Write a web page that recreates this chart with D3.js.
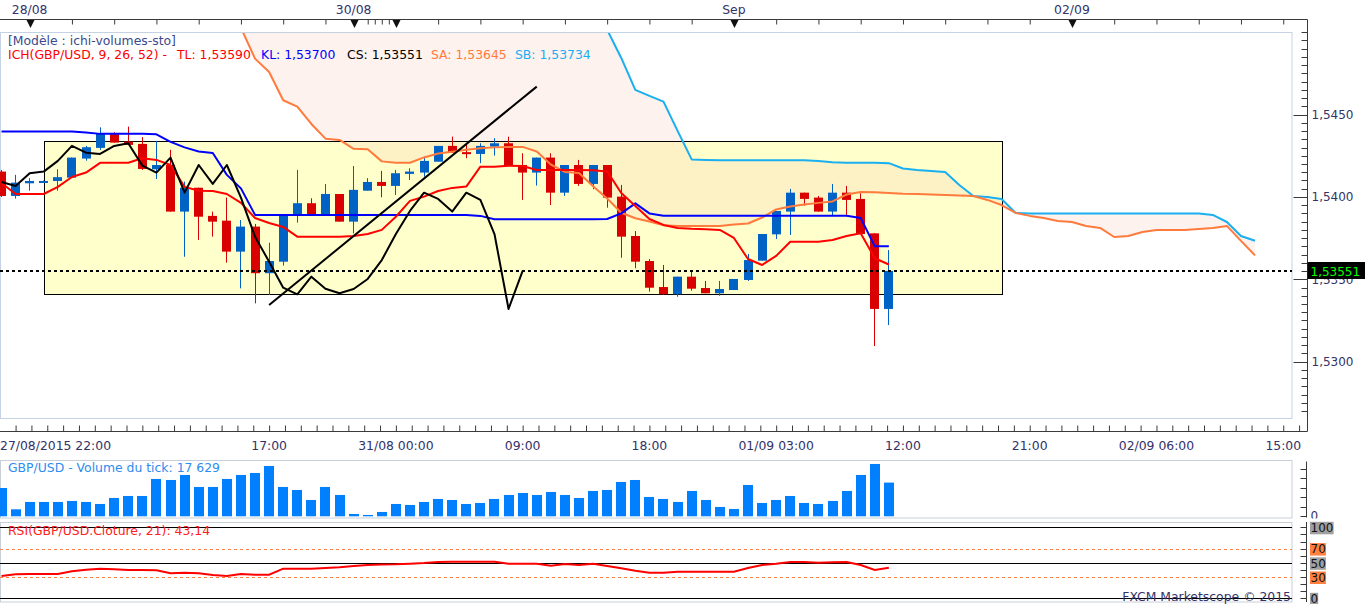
<!DOCTYPE html>
<html>
<head>
<meta charset="utf-8">
<script src="https://cdn.jsdelivr.net/npm/d3@7"></script>
<style>
  body { margin: 0; background: #fff; }
  svg { display: block; }
  text { font-family: "DejaVu Sans", Verdana, sans-serif; font-size: 12px; }
  text.lg { font-size: 12.4px; }
</style>
</head>
<body>
<svg width="1365" height="604"></svg>
<script>
"use strict";

// hourly GBP/USD bars, index 0 = 27/08/2015 22:00
var opens = [1.54154, 1.54006, 1.54083, 1.54092, 1.54097, 1.54117, 1.54233, 1.54298, 1.54381, 1.54336,
    1.54322, 1.54168, 1.54194, 1.53911, 1.54056, 1.53885, 1.53856, 1.53668, 1.53820, 1.53537,
    1.53607, 1.53895, 1.53962, 1.53895, 1.54018, 1.53850, 1.54038, 1.54091, 1.54067, 1.54140,
    1.54148, 1.54214, 1.54310, 1.54272, 1.54261, 1.54306, 1.54326, 1.54194, 1.54148, 1.54239,
    1.54026, 1.54194, 1.54079, 1.54194, 1.54002, 1.53763, 1.53611, 1.53453, 1.53409, 1.53516,
    1.53447, 1.53415, 1.53435, 1.53496, 1.53613, 1.53773, 1.53911, 1.54026, 1.53996, 1.53911,
    1.54026, 1.53988, 1.53779, 1.53320];
var highs = [1.54164, 1.54134, 1.54114, 1.54100, 1.54168, 1.54239, 1.54310, 1.54423, 1.54393, 1.54427,
    1.54363, 1.54340, 1.54286, 1.54093, 1.54056, 1.53911, 1.53996, 1.53860, 1.53836, 1.53722,
    1.53891, 1.54164, 1.53992, 1.54079, 1.54018, 1.54188, 1.54114, 1.54158, 1.54164, 1.54174,
    1.54245, 1.54310, 1.54366, 1.54326, 1.54326, 1.54357, 1.54366, 1.54265, 1.54239, 1.54265,
    1.54194, 1.54225, 1.54194, 1.54194, 1.54073, 1.53793, 1.53623, 1.53587, 1.53516, 1.53550,
    1.53490, 1.53490, 1.53502, 1.53654, 1.53775, 1.53915, 1.54049, 1.54026, 1.54006, 1.54079,
    1.54067, 1.54022, 1.53779, 1.53678];
var lows = [1.54000, 1.53990, 1.54038, 1.54088, 1.54038, 1.54117, 1.54220, 1.54286, 1.54330, 1.54316,
    1.54164, 1.54109, 1.53911, 1.53637, 1.53739, 1.53759, 1.53601, 1.53445, 1.53354, 1.53405,
    1.53583, 1.53844, 1.53891, 1.53895, 1.53850, 1.53779, 1.54038, 1.53998, 1.54012, 1.54103,
    1.54123, 1.54214, 1.54269, 1.54235, 1.54205, 1.54251, 1.54190, 1.53982, 1.54069, 1.53951,
    1.54006, 1.54067, 1.54047, 1.53935, 1.53631, 1.53567, 1.53425, 1.53405, 1.53394, 1.53431,
    1.53415, 1.53400, 1.53435, 1.53490, 1.53613, 1.53745, 1.53769, 1.53947, 1.53911, 1.53885,
    1.53891, 1.53775, 1.53095, 1.53222];
var closes = [1.54006, 1.54087, 1.54097, 1.54097, 1.54120, 1.54239, 1.54302, 1.54383, 1.54330, 1.54316,
    1.54170, 1.54194, 1.53911, 1.54056, 1.53880, 1.53850, 1.53668, 1.53820, 1.53537, 1.53611,
    1.53891, 1.53962, 1.53895, 1.54018, 1.53850, 1.54043, 1.54091, 1.54067, 1.54144, 1.54154,
    1.54219, 1.54310, 1.54269, 1.54261, 1.54310, 1.54326, 1.54190, 1.54148, 1.54239, 1.54026,
    1.54194, 1.54079, 1.54194, 1.53996, 1.53759, 1.53607, 1.53449, 1.53409, 1.53516, 1.53443,
    1.53415, 1.53441, 1.53502, 1.53617, 1.53775, 1.53915, 1.54026, 1.53988, 1.53911, 1.54026,
    1.53982, 1.53775, 1.53320, 1.53551];

var tickVolumes = [14800, 3660, 7500, 7500, 7500, 8020, 7500, 6450, 9590, 10630,
    10630, 19530, 19000, 21620, 15340, 15340, 19530, 21620, 22660, 26320,
    15340, 13770, 8540, 15340, 11160, 1220, 700, 2270, 6450, 5930,
    7500, 9070, 8540, 6450, 6970, 9070, 11160, 12200, 11160, 12730,
    11160, 9590, 13250, 13770, 17960, 19000, 10110, 9070, 7500, 13250,
    8540, 4880, 3830, 16390, 6970, 8540, 10630, 6970, 6450, 8020,
    13250, 21620, 27370, 17629];

var rsi21 = [31.4, 33.8, 34.2, 34.2, 34.2, 38.0, 40.3, 41.7, 40.8, 39.9,
    39.9, 39.4, 35.2, 36.1, 35.2, 32.8, 31.4, 34.2, 33.3, 33.3,
    41.7, 41.7, 41.7, 42.7, 43.7, 45.5, 46.9, 47.6, 47.9, 48.8,
    49.7, 51.1, 51.5, 51.5, 51.5, 51.5, 48.7, 48.7, 48.7, 45.9,
    48.3, 46.9, 48.7, 45.5, 42.3, 38.9, 36.1, 36.1, 37.5, 37.5,
    37.5, 37.5, 37.5, 42.7, 46.9, 48.7, 51.1, 51.1, 50.2, 50.7,
    51.1, 46.9, 39.9, 43.14];

// Ichimoku 9/26/52
var tenkan = [1.54085, 1.54018, 1.54018, 1.54018, 1.54061, 1.54121, 1.54148, 1.54207, 1.54207, 1.54208,
    1.54235, 1.54225, 1.54194, 1.54061, 1.54038, 1.54036, 1.54018, 1.53964, 1.53872, 1.53842,
    1.53818, 1.53759, 1.53759, 1.53759, 1.53759, 1.53763, 1.53775, 1.53800, 1.53880, 1.53976,
    1.54002, 1.54036, 1.54055, 1.54063, 1.54184, 1.54184, 1.54190, 1.54188, 1.54164, 1.54164,
    1.54164, 1.54164, 1.54162, 1.54155, 1.54024, 1.53945, 1.53866, 1.53830, 1.53812, 1.53807,
    1.53804, 1.53800, 1.53751, 1.53623, 1.53587, 1.53642, 1.53728, 1.53728, 1.53728, 1.53739,
    1.53763, 1.53780, 1.53628, 1.53590];
var kijun = [1.54397, 1.54397, 1.54397, 1.54397, 1.54397, 1.54397, 1.54392, 1.54383, 1.54383, 1.54383,
    1.54383, 1.54380, 1.54334, 1.54301, 1.54276, 1.54267, 1.54134, 1.54052, 1.53891, 1.53891,
    1.53891, 1.53891, 1.53891, 1.53891, 1.53891, 1.53891, 1.53891, 1.53891, 1.53891, 1.53891,
    1.53891, 1.53891, 1.53891, 1.53891, 1.53885, 1.53865, 1.53865, 1.53865, 1.53865, 1.53865,
    1.53865, 1.53865, 1.53865, 1.53866, 1.53900, 1.53961, 1.53900, 1.53886, 1.53886, 1.53886,
    1.53886, 1.53886, 1.53886, 1.53886, 1.53886, 1.53886, 1.53886, 1.53886, 1.53886, 1.53886,
    1.53886, 1.53872, 1.53700, 1.53700];
var senkouStart = 17;   // senkou spans below start at bar 17 and run 26 bars past the last candle
var senkouA = [1.55027, 1.54840, 1.54759, 1.54587, 1.54548, 1.54443, 1.54354, 1.54346, 1.54292, 1.54290,
    1.54216, 1.54208, 1.54208, 1.54240, 1.54264, 1.54275, 1.54286, 1.54295, 1.54301, 1.54304,
    1.54304, 1.54276, 1.54197, 1.54152, 1.54145, 1.54065, 1.53991, 1.53904, 1.53871, 1.53851,
    1.53828, 1.53824, 1.53824, 1.53824, 1.53824, 1.53833, 1.53839, 1.53875, 1.53924, 1.53942,
    1.53954, 1.53964, 1.53973, 1.54015, 1.54030, 1.54029, 1.54024, 1.54020, 1.54018, 1.54015,
    1.54012, 1.54009, 1.54006, 1.53982, 1.53951, 1.53903, 1.53885, 1.53872, 1.53854, 1.53848,
    1.53824, 1.53812, 1.53757, 1.53763, 1.53787, 1.53800, 1.53800, 1.53800, 1.53806, 1.53812,
    1.53824, 1.53733, 1.53645];
var senkouB = [1.5532, 1.5532, 1.5532, 1.5530, 1.5530, 1.5530, 1.5530, 1.5528, 1.5528, 1.5528,
    1.5528, 1.5528, 1.5526, 1.5526, 1.5526, 1.5526, 1.5524, 1.5524, 1.5524, 1.5524,
    1.5522, 1.5520, 1.5518, 1.5515, 1.5512, 1.5508, 1.55015, 1.54844, 1.54650, 1.54614,
    1.54579, 1.54401, 1.54228, 1.54225, 1.54223, 1.54223, 1.54223, 1.54223, 1.54223, 1.54223,
    1.54223, 1.54219, 1.54211, 1.54208, 1.54208, 1.54208, 1.54205, 1.54173, 1.54164, 1.54158,
    1.54152, 1.54073, 1.54006, 1.54000, 1.53988, 1.53903, 1.53899, 1.53899, 1.53899, 1.53899,
    1.53899, 1.53899, 1.53899, 1.53899, 1.53899, 1.53899, 1.53899, 1.53899, 1.53899, 1.53891,
    1.53848, 1.53763, 1.53734];
var chikouShift = 26;

// axis labels
var dayMarkBars = [2, 25, 28, 52, 76];
var dayLabelBars = [2, 25, 52, 76];
var dayLabels = ["28/08", "30/08", "Sep", "02/09"];
var firstTimeLabel = "27/08/2015 22:00";
var timeLabelBars = [19, 28, 37, 46, 55, 64, 73, 82, 91];
var timeLabels = ["17:00", "31/08 00:00", "09:00", "18:00", "01/09 03:00", "12:00", "21:00", "02/09 06:00", "15:00"];
var priceLabels = [1.530, 1.535, 1.540, 1.545];
var rsiLevels = [100, 70, 50, 30, 0];

// drawn objects on the chart
var boxBars = [3, 71], boxPrices = [1.5434, 1.5341];
var trendBars = [19, 38], trendPrices = [1.53344, 1.54670];

var svg = d3.select("svg");
var plotRight = 1292, axisX = 1307.5,
    mainTop = 32, mainBottom = 418;
var axisText = "#33336a";

var x = d3.scaleLinear().domain([0, 91]).range([1.5, 1.5 + 91 * 14.085]),
    y = d3.scaleLinear().domain([1.535, 1.545]).range([279.3, 114.6]),
    yVol = d3.scaleLinear().domain([0, 25000]).range([516.3, 468.5]),
    yRsi = d3.scaleLinear().domain([0, 100]).range([598.3, 527.3]);

var fr = d3.formatLocale({ decimal: ",", thousands: " ", grouping: [3], currency: ["", ""] });
var fmtPrice = fr.format(".5f"), fmtAxis = fr.format(".4f"),
    fmtVol = fr.format(","), fmtRsi = fr.format(".2f");

var candles = opens.map(function (o, i) {
    return { i: i, o: o, h: highs[i], l: lows[i], c: closes[i] };
});
var last = candles.length - 1;

// ---------- top date axis ----------
var topAxis = svg.append("g");
topAxis.append("line")
    .attr("x1", 0).attr("x2", axisX).attr("y1", 19.5).attr("y2", 19.5)
    .attr("stroke", "#3a3a3a");
var topTicks = d3.range(2, 24, 3).concat([26, 26.5, 27, 27.5]).concat(d3.range(28, 92, 3));
topAxis.append("g")
    .attr("transform", "translate(0,19.5)")
    .call(d3.axisBottom(x).tickValues(topTicks).tickSize(5).tickFormat(""))
    .call(function (g) { g.select(".domain").remove(); })
    .selectAll("line").attr("stroke", "#3a3a3a");
topAxis.selectAll(".mark").data(dayMarkBars).enter().append("path")
    .attr("transform", function (d) { return "translate(" + (Math.round(x(d)) + 0.5) + ",20)"; })
    .attr("d", "M-4,0L4,0L0,8Z")
    .attr("fill", "#111");
topAxis.selectAll(".daylbl").data(dayLabelBars).enter().append("text")
    .attr("class", "lg")
    .attr("x", function (d) { return x(d); })
    .attr("y", 14)
    .attr("text-anchor", "middle")
    .attr("fill", axisText)
    .text(function (d, k) { return dayLabels[k]; });

// ---------- main price pane ----------
svg.append("rect")
    .attr("x", 0.5).attr("y", mainTop + 0.5)
    .attr("width", plotRight - 0.5).attr("height", mainBottom - mainTop)
    .attr("fill", "#fff").attr("stroke", "#c4d2e4");

svg.append("clipPath").attr("id", "plotClip")
    .append("rect").attr("x", 0).attr("y", mainTop + 1)
    .attr("width", plotRight).attr("height", mainBottom - mainTop - 1);

var plot = svg.append("g").attr("clip-path", "url(#plotClip)");

var boxX0 = x(boxBars[0]), boxX1 = x(boxBars[1]),
    boxY0 = y(boxPrices[0]), boxY1 = y(boxPrices[1]);
plot.append("rect")
    .attr("x", Math.round(boxX0) + 0.5).attr("y", Math.round(boxY0) + 0.5)
    .attr("width", Math.round(boxX1 - boxX0)).attr("height", Math.round(boxY1 - boxY0))
    .attr("fill", "#ffffcc");

var cloud = senkouA.map(function (a, k) {
    return { i: senkouStart + k, a: a, b: senkouB[k] };
});
plot.append("path")
    .datum(cloud)
    .attr("d", d3.area()
        .x(function (d) { return x(d.i); })
        .y0(function (d) { return y(d.a); })
        .y1(function (d) { return y(d.b); }))
    .attr("fill", "rgb(245,190,170)")
    .attr("fill-opacity", 0.2);

plot.append("rect")
    .attr("x", Math.round(boxX0) + 0.5).attr("y", Math.round(boxY0) + 0.5)
    .attr("width", Math.round(boxX1 - boxX0)).attr("height", Math.round(boxY1 - boxY0))
    .attr("fill", "none").attr("stroke", "#000");

// candles
var upColor = "#0062c4", downColor = "#d80000";
function candleColor(d) { return d.c >= d.o ? upColor : downColor; }
function bodyLeft(d) { return Math.round(x(d.i) - 4.5); }

plot.selectAll(".wick").data(candles).enter().append("line")
    .attr("x1", function (d) { return bodyLeft(d) + 4.5; })
    .attr("x2", function (d) { return bodyLeft(d) + 4.5; })
    .attr("y1", function (d) { return y(d.h); })
    .attr("y2", function (d) { return y(d.l); })
    .attr("stroke", candleColor)
    .attr("stroke-width", 1);

plot.selectAll(".body").data(candles).enter().append("rect")
    .attr("x", bodyLeft)
    .attr("y", function (d) { return Math.min(y(d.o), y(d.c)); })
    .attr("width", 9)
    .attr("height", function (d) { return Math.max(2, Math.abs(y(d.o) - y(d.c))); })
    .attr("fill", candleColor);

// indicator lines
function lineFrom(values, start) {
    return d3.line()
        .x(function (d, k) { return x(start + k); })
        .y(function (d) { return y(d); })(values);
}
var chikou = closes.slice(chikouShift);
var ichiLines = [
    { values: senkouB, start: senkouStart, color: "#1aaff0" },
    { values: senkouA, start: senkouStart, color: "#ff7a3d" },
    { values: kijun, start: 0, color: "#0000ff" },
    { values: tenkan, start: 0, color: "#ff0000" },
    { values: chikou, start: 0, color: "#000000" }
];
plot.selectAll(".ichi").data(ichiLines).enter().append("path")
    .attr("d", function (d) { return lineFrom(d.values, d.start); })
    .attr("fill", "none")
    .attr("stroke", function (d) { return d.color; })
    .attr("stroke-width", 2)
    .attr("stroke-linejoin", "round");

plot.append("line")
    .attr("x1", x(trendBars[0])).attr("y1", y(trendPrices[0]))
    .attr("x2", x(trendBars[1])).attr("y2", y(trendPrices[1]))
    .attr("stroke", "#000").attr("stroke-width", 2);

var lastY = Math.round(y(closes[last]));
plot.append("line")
    .attr("x1", 0).attr("x2", plotRight)
    .attr("y1", lastY).attr("y2", lastY)
    .attr("stroke", "#000").attr("stroke-width", 2)
    .attr("stroke-dasharray", "3,3");

// legend
var legend = svg.append("g");
legend.append("text").attr("class", "lg").attr("x", 8).attr("y", 45)
    .attr("fill", "#3a4a8c").text("[Modèle : ichi-volumes-sto]");
var legendParts = [
    { x: 8, color: "#ff0000", text: "ICH(GBP/USD, 9, 26, 52) -" },
    { x: 177, color: "#ff0000", text: "TL: " + fmtPrice(tenkan[last]) },
    { x: 261, color: "#0000ff", text: "KL: " + fmtPrice(kijun[last]) },
    { x: 347, color: "#000000", text: "CS: " + fmtPrice(closes[last]) },
    { x: 431, color: "#ff7a3d", text: "SA: " + fmtPrice(senkouA[senkouA.length - 1]) },
    { x: 515, color: "#1aaff0", text: "SB: " + fmtPrice(senkouB[senkouB.length - 1]) }
];
legend.selectAll(".lp").data(legendParts).enter().append("text")
    .attr("class", "lg")
    .attr("x", function (d) { return d.x; })
    .attr("y", 59)
    .attr("fill", function (d) { return d.color; })
    .text(function (d) { return d.text; });

// right price axis
var priceAxis = svg.append("g");
priceAxis.append("line")
    .attr("x1", axisX).attr("x2", axisX).attr("y1", 19.5).attr("y2", 431.5)
    .attr("stroke", "#3a3a3a");
var minorTicks = d3.ticks(y.invert(mainBottom), y.invert(mainTop), 50);
priceAxis.selectAll(".minor").data(minorTicks).enter().append("line")
    .attr("x1", axisX - 6).attr("x2", axisX)
    .attr("y1", function (d) { return Math.round(y(d)) + 0.5; })
    .attr("y2", function (d) { return Math.round(y(d)) + 0.5; })
    .attr("stroke", "#3a3a3a");
priceAxis.selectAll(".major").data(priceLabels).enter().append("line")
    .attr("x1", axisX - 14).attr("x2", axisX)
    .attr("y1", function (d) { return Math.round(y(d)) + 0.5; })
    .attr("y2", function (d) { return Math.round(y(d)) + 0.5; })
    .attr("stroke", "#3a3a3a");

// the last-price tag hides the part of the axis label it sits on
var tagTop = lastY - 9, tagH = 17;
svg.append("clipPath").attr("id", "labelClip")
    .append("path")
    .attr("clip-rule", "evenodd")
    .attr("d", "M1300,0H1365V440H1300Z M" + axisX + "," + tagTop + "h58v" + tagH + "h-58Z");
priceAxis.append("g").attr("clip-path", "url(#labelClip)")
    .selectAll(".plabel").data(priceLabels).enter().append("text")
    .attr("x", axisX + 4)
    .attr("y", function (d) { return y(d) + 4.5; })
    .attr("fill", axisText)
    .text(fmtAxis);

priceAxis.append("rect")
    .attr("x", axisX).attr("y", tagTop)
    .attr("width", 58).attr("height", tagH)
    .attr("fill", "#000");
priceAxis.append("text")
    .attr("x", axisX + 3).attr("y", lastY + 4.5)
    .attr("fill", "#00ff00")
    .text(fmtPrice(closes[last]));

// bottom time axis
var bottomAxis = svg.append("g");
bottomAxis.append("line")
    .attr("x1", 0).attr("x2", axisX).attr("y1", 431.5).attr("y2", 431.5)
    .attr("stroke", "#3a3a3a");
bottomAxis.append("g")
    .attr("transform", "translate(0,431.5)")
    .call(d3.axisTop(x).tickValues(d3.range(1, 93, 9 / 8)).tickSize(6).tickFormat(""))
    .call(function (g) { g.select(".domain").remove(); })
    .selectAll("line").attr("stroke", "#3a3a3a");
bottomAxis.append("text")
    .attr("class", "lg")
    .attr("x", 0).attr("y", 450)
    .attr("fill", axisText)
    .text(firstTimeLabel);
bottomAxis.selectAll(".tlabel").data(timeLabelBars).enter().append("text")
    .attr("class", "lg")
    .attr("x", function (d) { return x(d); })
    .attr("y", 450)
    .attr("text-anchor", "middle")
    .attr("fill", axisText)
    .text(function (d, k) { return timeLabels[k]; });

// ---------- volume pane ----------
svg.append("rect")
    .attr("x", 0.5).attr("y", 460.5)
    .attr("width", plotRight - 0.5).attr("height", 57.5)
    .attr("fill", "#fff").attr("stroke", "#c8cfd9");

svg.append("clipPath").attr("id", "volClip")
    .append("rect").attr("x", 0).attr("y", 455).attr("width", 1365).attr("height", 63.5);
var volG = svg.append("g").attr("clip-path", "url(#volClip)");

volG.selectAll(".vol").data(tickVolumes).enter().append("rect")
    .attr("x", function (d, i) { return Math.round(x(i) - 5); })
    .attr("y", function (d) { return yVol(d); })
    .attr("width", 10)
    .attr("height", function (d) { return yVol(0) - yVol(d); })
    .attr("fill", "#0080ff");

volG.append("line")
    .attr("x1", axisX - 1).attr("x2", axisX - 1).attr("y1", 461.5).attr("y2", 517.5)
    .attr("stroke", "#3a3a3a");
volG.selectAll(".vtick").data(d3.range(0, 30000, 5000)).enter().append("line")
    .attr("x1", axisX - 7).attr("x2", axisX - 1)
    .attr("y1", function (d) { return Math.round(yVol(d)) + 0.5; })
    .attr("y2", function (d) { return Math.round(yVol(d)) + 0.5; })
    .attr("stroke", "#3a3a3a");
volG.append("text")
    .attr("x", axisX + 3).attr("y", 520)
    .attr("fill", axisText).text("0");

svg.append("text").attr("class", "lg").attr("x", 8).attr("y", 472)
    .attr("fill", "#2f8cf0")
    .text("GBP/USD - Volume du tick: " + fmtVol(tickVolumes[last]));

// ---------- RSI pane ----------
svg.append("rect")
    .attr("x", 0.5).attr("y", 522.5)
    .attr("width", plotRight - 0.5).attr("height", 79.5)
    .attr("fill", "#fff").attr("stroke", "#c8cfd9");

function isBand(v) { return v === 70 || v === 30; }
svg.selectAll(".rsilevel").data(rsiLevels).enter().append("line")
    .attr("x1", 0).attr("x2", plotRight)
    .attr("y1", function (d) { return Math.round(yRsi(d)) + 0.5; })
    .attr("y2", function (d) { return Math.round(yRsi(d)) + 0.5; })
    .attr("stroke", function (d) { return isBand(d) ? "#ff8040" : "#000"; })
    .attr("stroke-dasharray", function (d) { return isBand(d) ? "3,3" : null; });

svg.append("path")
    .datum(rsi21)
    .attr("d", d3.line()
        .x(function (d, i) { return x(i); })
        .y(function (d) { return yRsi(d); }))
    .attr("fill", "none")
    .attr("stroke", "#ff0000")
    .attr("stroke-width", 2);

svg.append("text").attr("class", "lg").attr("x", 8).attr("y", 535)
    .attr("fill", "#ff2020")
    .text("RSI(GBP/USD.Cloture, 21): " + fmtRsi(rsi21[last]));

svg.append("line")
    .attr("x1", axisX - 1).attr("x2", axisX - 1).attr("y1", 522).attr("y2", 602)
    .attr("stroke", "#3a3a3a");
svg.selectAll(".rtick").data(d3.range(0, 101, 10)).enter().append("line")
    .attr("x1", axisX - 7).attr("x2", axisX - 1)
    .attr("y1", function (d) { return Math.round(yRsi(d)) + 0.5; })
    .attr("y2", function (d) { return Math.round(yRsi(d)) + 0.5; })
    .attr("stroke", "#3a3a3a");

var rsiLabels = svg.selectAll(".rlabel").data(rsiLevels).enter().append("g")
    .attr("transform", function (d) { return "translate(" + (axisX + 2.5) + "," + (yRsi(d) + 0.5) + ")"; });
rsiLabels.append("rect")
    .attr("x", 0).attr("y", -6)
    .attr("width", function (d) { return String(d).length * 7.7 + 0.5; })
    .attr("height", 12.5)
    .attr("fill", function (d) { return isBand(d) ? "#ff8040" : "#a0a0a0"; });
rsiLabels.append("text")
    .attr("x", 0.5).attr("y", 4.3)
    .attr("fill", "#111")
    .text(function (d) { return d; });

svg.append("text")
    .attr("class", "lg")
    .attr("x", 1291).attr("y", 601)
    .attr("text-anchor", "end")
    .attr("fill", axisText)
    .text("FXCM Marketscope © 2015");
</script>
</body>
</html>
